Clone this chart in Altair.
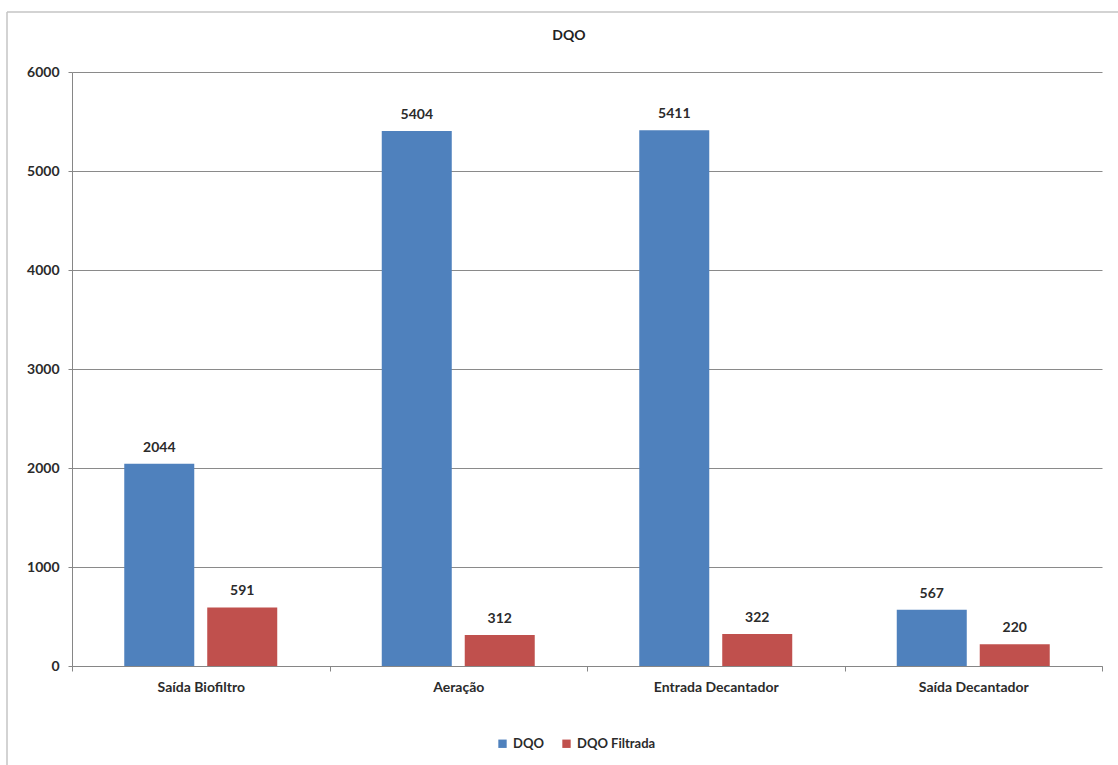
import altair as alt
import pandas as pd

# DQO measurements per sampling point
pontos = ["Saída Biofiltro", "Aeração", "Entrada Decantador", "Saída Decantador"]
series = ["DQO", "DQO Filtrada"]
dqo = [2044, 5404, 5411, 567]
dqo_filtrada = [591, 312, 322, 220]
cores = ["#4F81BD", "#C0504D"]

rows = []
for p, a, b in zip(pontos, dqo, dqo_filtrada):
    rows.append({"ponto": p, "serie": series[0], "valor": a})
    rows.append({"ponto": p, "serie": series[1], "valor": b})
df = pd.DataFrame(rows)

FONT = "Lato"
W, H = 1030, 594

x_enc = alt.X(
    "ponto:N",
    sort=pontos,
    title=None,
    scale=alt.Scale(paddingInner=0, paddingOuter=0),
    axis=alt.Axis(
        labelAngle=0,
        tickBand="extent",
        tickSize=5,
        labelPadding=9,
        labelFontSize=14,
        labelFontWeight="bold",
        labelColor="#2b2b2b",
        domainColor="#868686",
        tickColor="#868686",
        grid=False,
    ),
)
xoff_enc = alt.XOffset(
    "serie:N",
    sort=series,
    scale=alt.Scale(paddingInner=0.157, paddingOuter=0.63),
)
y_enc = alt.Y(
    "valor:Q",
    title=None,
    scale=alt.Scale(domain=[0, 6000], nice=False),
    axis=alt.Axis(
        values=[0, 1000, 2000, 3000, 4000, 5000, 6000],
        format="d",
        tickSize=4,
        labelPadding=9,
        labelFontSize=14,
        labelFontWeight="bold",
        labelColor="#2b2b2b",
        domainColor="#868686",
        tickColor="#868686",
        gridColor="#8a8a8a",
        gridWidth=1,
    ),
)
color_enc = alt.Color(
    "serie:N",
    sort=series,
    scale=alt.Scale(domain=series, range=cores),
    legend=alt.Legend(
        title=None,
        orient="none",
        direction="horizontal",
        legendX=424,
        legendY=665,
        symbolType="square",
        symbolSize=70,
        symbolStrokeWidth=0,
        labelFontSize=13,
        labelFontWeight="bold",
        labelColor="#2b2b2b",
        labelOffset=4,
        columnPadding=16,
    ),
)

base = alt.Chart(df).encode(x=x_enc, xOffset=xoff_enc, y=y_enc)

bars = base.mark_bar(size=70).encode(color=color_enc)

labels = base.mark_text(
    baseline="bottom", dy=-9, fontSize=14, fontWeight="bold", color="#2b2b2b", font=FONT
).encode(text=alt.Text("valor:Q", format="d"))

# light border around the whole chart area
frame_src = alt.Data(values=[{"k": 0}])
frame_top = alt.Chart(frame_src).mark_rule(color="#c4c4c4", strokeWidth=1.5).encode(
    x=alt.value(-65), x2=alt.value(1046), y=alt.value(-60)
)
frame_left = alt.Chart(frame_src).mark_rule(color="#c4c4c4", strokeWidth=1.5).encode(
    x=alt.value(-65), y=alt.value(-60), y2=alt.value(693)
)

chart = (
    alt.layer(frame_top, frame_left, bars, labels)
    .properties(
        width=W,
        height=H,
        title=alt.TitleParams(
            "DQO", fontSize=14, fontWeight="bold", color="#222222", font=FONT,
            anchor="middle", dx=-18, offset=-32,
        ),
        autosize=alt.AutoSizeParams(type="none"),
        padding={"left": 72, "top": 72, "right": 16, "bottom": 99},
    )
    .configure(font=FONT, background="white")
    .configure_view(stroke=None)
    .configure_axis(labelFont=FONT)
    .configure_legend(labelFont=FONT)
)

chart.save("out.html", embed_options={"renderer": "svg", "actions": False})
